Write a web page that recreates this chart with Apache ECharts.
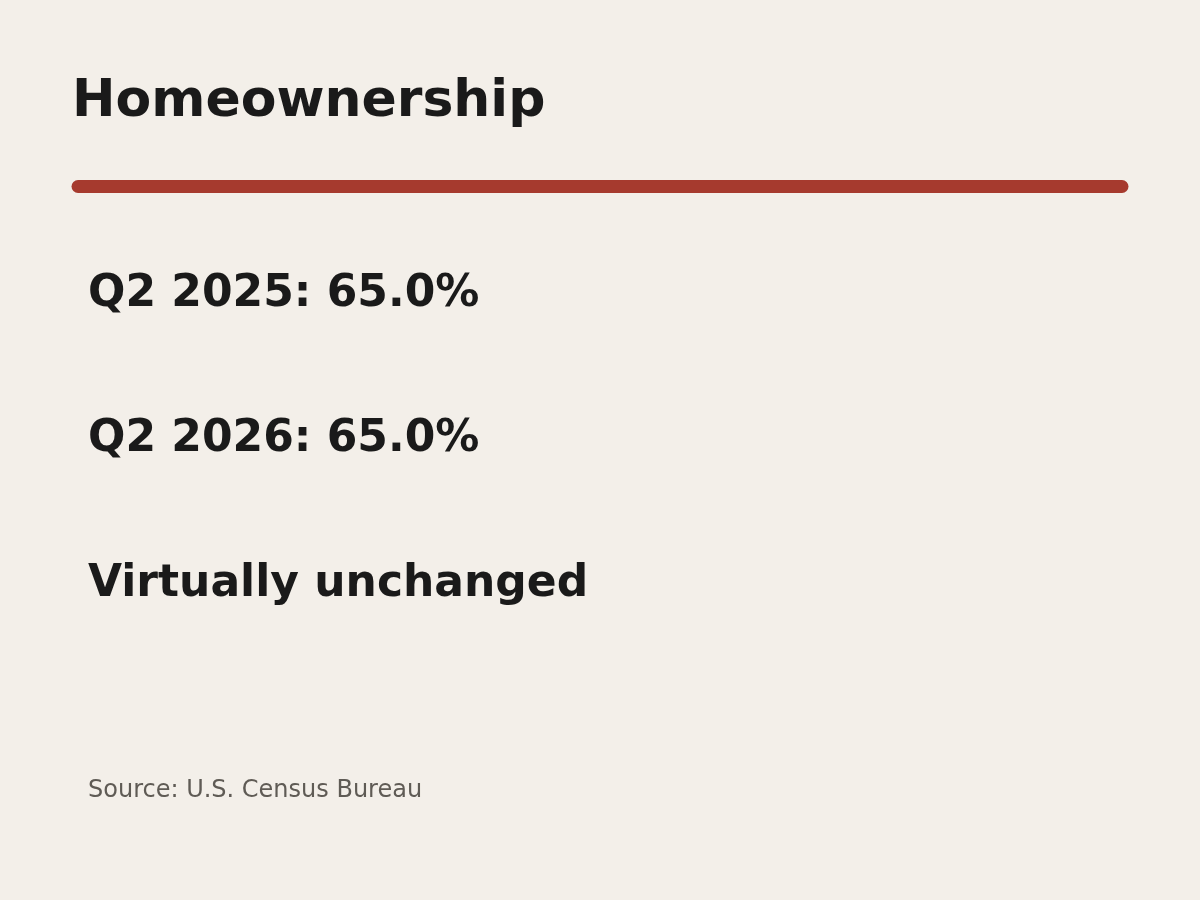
<!DOCTYPE html>
<html><head><meta charset="utf-8">
<script src="https://cdn.jsdelivr.net/npm/echarts@6/dist/echarts.min.js"></script>
<style>html,body{margin:0;padding:0;background:#f3efe9}#c{width:1200px;height:900px}</style>
</head><body><div id="c"></div>
<script>
const title = "Homeownership";
const periods = ["Q2 2025", "Q2 2026"];
const values = [65.0, 65.0];
const summary = "Virtually unchanged";
const source = "Source: U.S. Census Bureau";

const chart = echarts.init(document.getElementById('c'));
const ff = 'DejaVu Sans';
const lines = periods.map((p, i) => p + ": " + values[i].toFixed(1) + "%").concat([summary]);
const graphic = [
  {type:'text', x:72, y:102, style:{text:title, fontFamily:ff, fontWeight:'bold', fontSize:52, fill:'#1a1a1a', align:'left', verticalAlign:'middle'}},
  {type:'line', shape:{x1:78, y1:186.5, x2:1122, y2:186.5}, style:{stroke:'#a63a2e', lineWidth:13, lineCap:'round'}},
  {type:'text', x:88, y:791, style:{text:source, fontFamily:ff, fontSize:24, fill:'#5f5b55', align:'left', verticalAlign:'middle'}}
];
lines.forEach((t, i) => graphic.push({type:'text', x:88, y:295 + i*145,
  style:{text:t, fontFamily:ff, fontWeight:'bold', fontSize:44, fill:'#1a1a1a', align:'left', verticalAlign:'middle'}}));
chart.setOption({backgroundColor:'#f3efe9', graphic});
</script></body></html>
